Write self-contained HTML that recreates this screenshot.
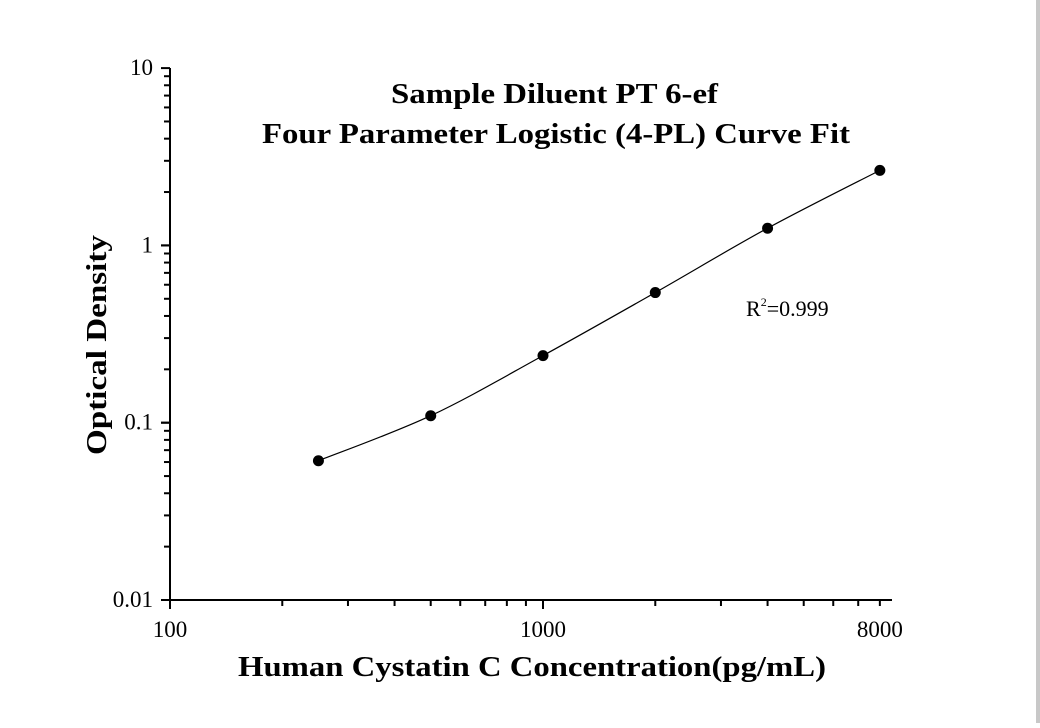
<!DOCTYPE html>
<html><head><meta charset="utf-8"><style>
body{margin:0;background:#fff;width:1040px;height:723px;overflow:hidden}
svg text{font-family:"Liberation Serif",serif;fill:#000}
</style></head><body>
<svg id="chart" width="1040" height="723">
<rect x="1036" y="0" width="4" height="723" fill="#c8c8c8"/>
<g id="axes"></g>
<g id="marks"></g>
<text x="391" y="103" font-size="29" font-weight="bold" textLength="327" lengthAdjust="spacingAndGlyphs">Sample Diluent PT 6-ef</text>
<text x="262" y="143" font-size="29" font-weight="bold" textLength="588" lengthAdjust="spacingAndGlyphs">Four Parameter Logistic (4-PL) Curve Fit</text>
<text x="746" y="316" font-size="22">R<tspan font-size="12" dy="-10">2</tspan><tspan dy="10">=0.999</tspan></text>
<text x="238" y="676" font-size="29" font-weight="bold" textLength="588" lengthAdjust="spacingAndGlyphs">Human Cystatin C Concentration(pg/mL)</text>
<text transform="translate(106,455) rotate(-90)" font-size="29" font-weight="bold" textLength="220" lengthAdjust="spacingAndGlyphs">Optical Density</text>
</svg>
<script>
const concentrations=[250,500,1000,2000,4000,8000];
const odValues=[0.061,0.1095,0.239,0.542,1.25,2.65];
const xTickValues=[100,1000,8000];
const xTickLabels=["100","1000","8000"];
const yTickValues=[0.01,0.1,1,10];
const yTickLabels=["0.01","0.1","1","10"];
const NS="http://www.w3.org/2000/svg";
const X0=170,XD=373,Y0=600,YD=177.3;
const xs=v=>X0+XD*Math.log10(v/100);
const ys=v=>Y0-YD*Math.log10(v/0.01);
function mk(tag,attrs,parent){const e=document.createElementNS(NS,tag);for(const k in attrs)e.setAttribute(k,attrs[k]);parent.appendChild(e);return e;}
const ax=document.getElementById('axes'),mg=document.getElementById('marks');
let l=mk('line',{x1:X0,y1:Y0,x2:892,y2:Y0,stroke:'#000','stroke-width':2},ax);


l=mk('line',{x1:X0,y1:Y0+1,x2:X0,y2:68,stroke:'#000','stroke-width':2},ax);


for(let d=100;d<10000;d*=10){for(let m=1;m<10;m++){const v=d*m;if(v>8000)break;const x=xs(v);const t=mk('line',{x1:x,y1:Y0,x2:x,y2:Y0+(m==1?9:6),stroke:'#000','stroke-width':2},ax);

}}
for(let d=0.01;d<10;d*=10){for(let m=1;m<=10;m++){const v=d*m;const y=ys(v);const t=mk('line',{x1:X0,y1:y,x2:X0-(m==1||m==10?9:6),y2:y,stroke:'#000','stroke-width':2},ax);

}}
xTickValues.forEach((v,i)=>{const t=mk('text',{x:xs(v),y:Y0+37,'font-size':23,'text-anchor':'middle'},ax);t.textContent=xTickLabels[i];

});
yTickValues.forEach((v,i)=>{const t=mk('text',{x:X0-17,y:ys(v)+7,'font-size':23,'text-anchor':'end'},ax);t.textContent=yTickLabels[i];

});
const P=concentrations.map((c,i)=>[xs(c),ys(odValues[i])]);
let d=`M${P[0][0]},${P[0][1]}`;
for(let i=0;i<P.length-1;i++){const p0=P[Math.max(i-1,0)],p1=P[i],p2=P[i+1],p3=P[Math.min(i+2,P.length-1)];
d+=` C${p1[0]+(p2[0]-p0[0])/6},${p1[1]+(p2[1]-p0[1])/6} ${p2[0]-(p3[0]-p1[0])/6},${p2[1]-(p3[1]-p1[1])/6} ${p2[0]},${p2[1]}`;}
const cv=mk('path',{d:d,fill:'none',stroke:'#000','stroke-width':1.2},mg);


P.forEach(p=>{const c=mk('circle',{cx:p[0],cy:p[1],r:5.5,fill:'#000'},mg);

});
</script>
</body></html>
